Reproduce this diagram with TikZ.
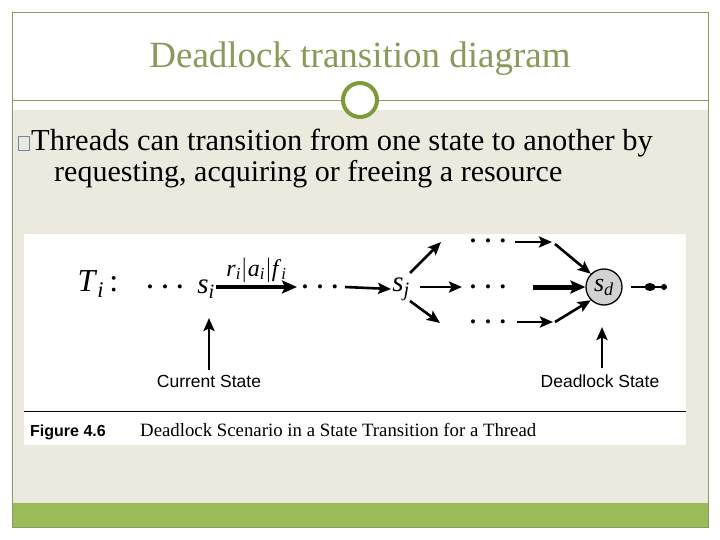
\documentclass[tikz,border=0pt]{standalone}
\usepackage{fontspec}
\setmainfont{Liberation Serif}
\setsansfont{Liberation Sans}
\usetikzlibrary{arrows.meta}
\definecolor{frameol}{HTML}{8C9A5E}
\definecolor{titlecol}{HTML}{8A9A5B}
\definecolor{beige}{HTML}{ECEADF}
\definecolor{barg}{HTML}{9BBB59}
\definecolor{ringg}{HTML}{7F9A3A}
\definecolor{sdgray}{HTML}{D2D2D2}
\definecolor{bulcol}{HTML}{6A86B0}
\newcommand{\vi}[2]{\textit{#1}\textsubscript{\textit{#2}}}
\newcommand{\threedots}{•\hspace{9pt}•\hspace{9pt}•}
\tikzset{
  arr/.style={-{Stealth[length=13pt,width=11pt,inset=2.5pt]}, line width=2.6pt},
  thickarr/.style={-{Stealth[length=15pt,width=13pt,inset=3pt]}, line width=5pt},
  lbl/.style={font=\sffamily\fontsize{17.5}{19}\selectfont, inner sep=0pt},
  st/.style={inner sep=1pt, font=\fontsize{29}{30}\selectfont},
  dots/.style={inner sep=0pt, anchor=base, font=\fontsize{17}{18}\selectfont},
}
\begin{document}
\begin{tikzpicture}[x=1pt,y=-1pt]
\useasboundingbox (0,0) rectangle (720,540);
\fill[white] (0,0) rectangle (720,540);
% slide
\fill[beige] (12,110) rectangle (708,503);
\fill[barg] (12,503) rectangle (708,527);
\draw[frameol, line width=0.8pt] (12,12) rectangle (708,527);
\draw[frameol, line width=0.8pt] (12,100) -- (708,100);
\node[circle, draw=ringg, line width=4pt, fill=white, minimum size=34pt, inner sep=0pt] (ring) at (360,100) {};
\node[text=titlecol, font=\fontsize{37}{40}\selectfont, inner sep=0pt] (title) at (360,59) {Deadlock transition diagram};
% bullet text
\node[draw=bulcol, line width=0.9pt, minimum width=11pt, minimum height=14pt, inner sep=0pt] (bul) at (24,143) {};
\node[anchor=base west, inner sep=0pt, font=\fontsize{30.5}{31}\selectfont] (l1) at (31,151) {Threads can transition from one state to another by};
\node[anchor=base west, inner sep=0pt, font=\fontsize{30}{31}\selectfont] (l2) at (54,182) {requesting, acquiring or freeing a resource};
% figure
\fill[white] (24,234) rectangle (686,445);
\draw[line width=0.8pt] (24,411) -- (686,411);
\node[anchor=base west, inner sep=0pt, font=\sffamily\bfseries\fontsize{16}{18}\selectfont] (fig) at (30,436) {Figure 4.6};
\node[anchor=base west, inner sep=0pt, font=\fontsize{18.8}{20}\selectfont] (cap) at (140,436) {Deadlock Scenario in a State Transition for a Thread};
\node[font=\fontsize{32}{34}\selectfont, inner sep=0pt] (Ti) at (98,284) {\vi{T}{i}\,:};
\node[dots] (d1) at (165,292) {\threedots};
\node[st] (si) at (206,289) {\vi{s}{i}};
\node[dots] (dd) at (320,292) {\threedots};
\node[st] (sj) at (401,289) {\vi{s}{j}};
\coordinate (siE) at (216,287);
\coordinate (ddW) at (297,287);
\draw[thickarr, line width=3.2pt] (siE) -- node[above=3pt, font=\fontsize{24}{26}\selectfont, inner sep=0pt] (lab) {\vi{r}{i}$|$\vi{a}{i}$|$\vi{f}{i}} (ddW);
\coordinate (ddE) at (345,287);
\draw[arr] (ddE) -- (sj.west);
% branches
\node[dots] (dt) at (488,246) {\threedots};
\node[dots] (dm) at (488,292) {\threedots};
\node[dots] (db) at (488,327) {\threedots};
\coordinate (ut) at (441,242);
\coordinate (ub) at (440,323);
\coordinate (um) at (462,287);
\draw[arr] (410,273) -- (ut);
\draw[arr] (420,287) -- (um);
\draw[arr] (410,301) -- (ub);
\node[circle, draw, fill=sdgray, line width=1.3pt, minimum size=36pt, inner sep=0pt] (sd) at (604,287) {\fontsize{26}{28}\selectfont\vi{s}{d}};
\coordinate (tt) at (552,242);
\coordinate (bb) at (553,322);
\draw[arr] (515,242) -- (tt);
\draw[arr] (555,244) -- (sd.north west);
\draw[thickarr] (533,287) -- (sd.west);
\draw[arr] (517,322) -- (bb);
\draw[arr] (555,322) -- (sd.south west);
% terminal
\coordinate (e2) at (664,287);
\draw[line width=2pt] (631,287) -- (e2);
\fill (650,287) ellipse (5.5pt and 4pt);
\fill (e2) circle (3pt);
% state labels
\node[lbl] (cs) at (209,381) {Current State};
\node[lbl] (ds) at (600,381) {Deadlock State};
\coordinate (csu) at (209,318);
\coordinate (dsu) at (602,327);
\draw[arr] (209,370) -- (csu);
\draw[arr] (602,368) -- (dsu);
\end{tikzpicture}
\end{document}
